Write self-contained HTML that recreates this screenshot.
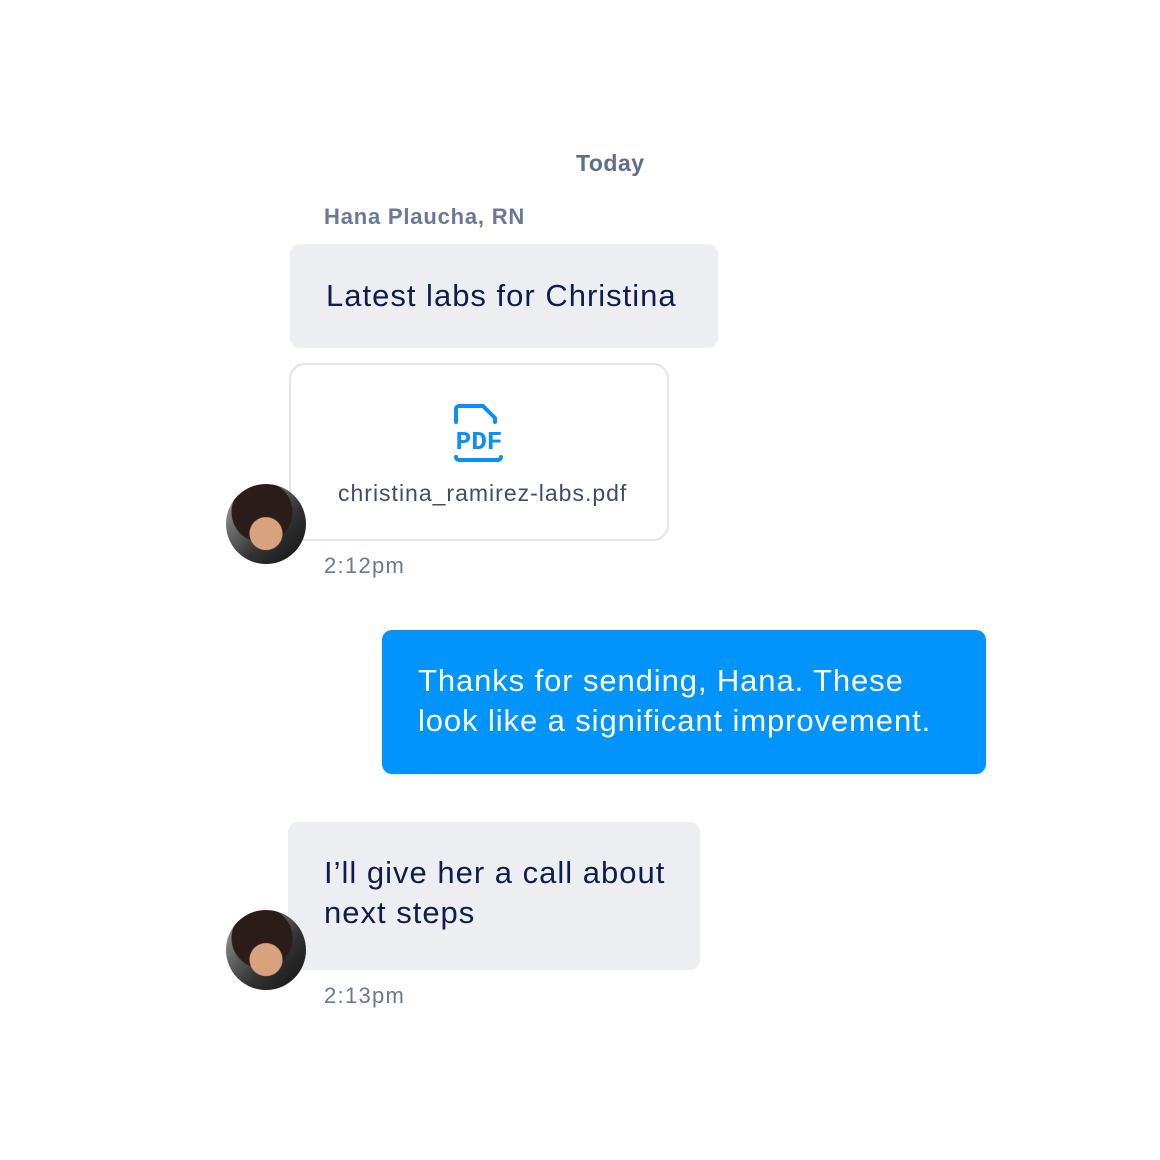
<!DOCTYPE html>
<html><head><style>
body{margin:0;width:1160px;height:1160px;background:#fff;font-family:"Liberation Sans",sans-serif;position:relative;overflow:hidden}
.a{position:absolute}
.bub{position:absolute;background:#edeef1;border-radius:10px;color:#0f1d4a;font-size:31px;line-height:40px;letter-spacing:1px}
.av{position:absolute;width:80px;height:80px;border-radius:50%;background:radial-gradient(circle at 50% 62%,#d9a27f 0 16px,transparent 17px),radial-gradient(circle at 45% 35%,#2a1c18 0 30px,transparent 31px),linear-gradient(135deg,#aaa,#333 60%,#111)}
.t{color:#6b7896;font-size:22px;letter-spacing:1.3px}
</style></head><body>
<div class="a" style="left:576px;top:150px;font-size:23px;color:#5f6e8c;font-weight:bold;letter-spacing:0.5px">Today</div>
<div class="a" style="left:324px;top:204px;font-size:22px;color:#6b7896;font-weight:bold;letter-spacing:0.8px">Hana Plaucha, RN</div>
<div class="bub" style="left:290px;top:244px;width:428px;height:104px"><div style="position:absolute;left:36px;top:32px">Latest labs for Christina</div></div>
<div class="a" style="left:289px;top:363px;width:376px;height:174px;border:2px solid #e2e5ea;border-radius:16px"></div>
<svg class="a" style="left:450px;top:400px" width="60" height="66" viewBox="0 0 60 66">
<path d="M6 22V9a3 3 0 0 1 3-3h24l12 12v4" fill="none" stroke="#0a90f5" stroke-width="4" stroke-linejoin="round" stroke-linecap="round"/>
<path d="M6 57a3 3 0 0 0 3 3h39a3 3 0 0 0 3-3" fill="none" stroke="#0a90f5" stroke-width="4" stroke-linecap="round"/>
<text x="29" y="49" text-anchor="middle" font-family="Liberation Mono,monospace" font-weight="bold" font-size="26" fill="#0a90f5">PDF</text>
</svg>
<div class="a" style="left:338px;top:480px;font-size:23px;color:#3e4c6e;letter-spacing:1px">christina_ramirez-labs.pdf</div>
<div class="av" style="left:226px;top:484px"></div>
<div class="a t" style="left:324px;top:553px">2:12pm</div>
<div class="a" style="left:382px;top:630px;width:604px;height:144px;background:#0094fc;border-radius:10px;color:#fff;font-size:31px;line-height:40px;letter-spacing:0.9px"><div style="position:absolute;left:36px;top:31px">Thanks for sending, Hana. These<br>look like a significant improvement.</div></div>
<div class="bub" style="left:288px;top:822px;width:412px;height:148px"><div style="position:absolute;left:36px;top:31px">I’ll give her a call about<br>next steps</div></div>
<div class="av" style="left:226px;top:910px"></div>
<div class="a t" style="left:324px;top:983px">2:13pm</div>
</body></html>
